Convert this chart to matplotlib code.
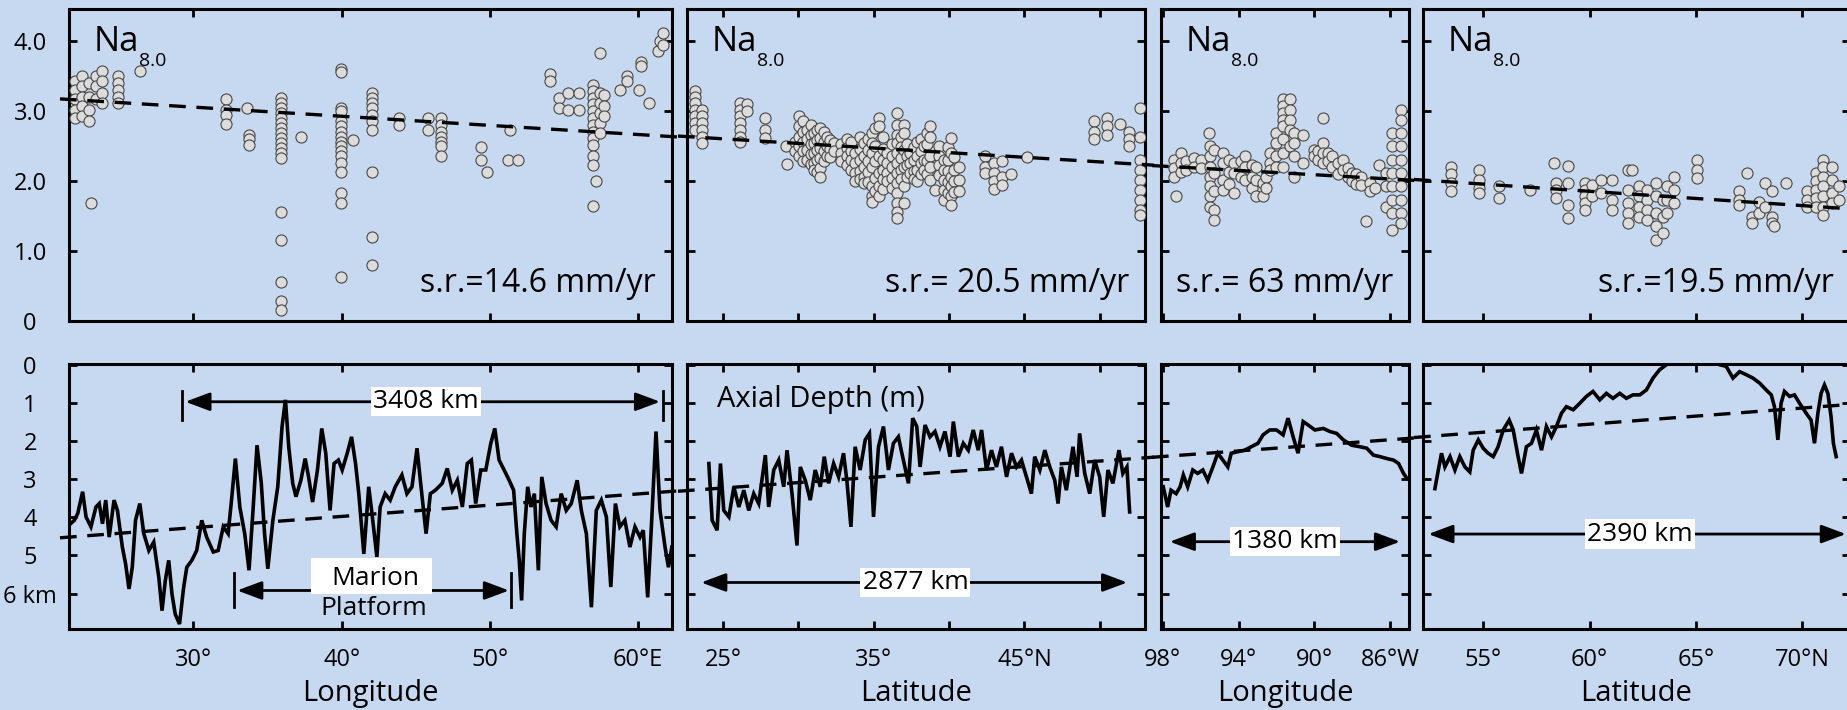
import numpy as np
import matplotlib.pyplot as plt
import matplotlib.transforms as mtransforms
from matplotlib.patches import Rectangle

plt.rcParams['font.family'] = ['Open Sans', 'DejaVu Sans']

BG = '#c6d9f0'
W, H = 1847, 710

# ---- Na8.0 samples: (position, [values]) columns ----
na_swir = [
    (22.03, [3.42, 3.30, 3.16, 3.01, 2.90]), (22.48, [3.49, 3.35, 3.20, 3.06, 2.92]),
    (22.94, [3.40, 3.20, 3.01, 2.85]), (23.06, [1.68]), (23.39, [3.49, 3.35, 3.16]),
    (23.84, [3.56, 3.42, 3.25, 3.11]), (24.89, [3.49, 3.40, 3.30, 3.20, 3.11]),
    (26.40, [3.56]), (32.21, [3.17, 3.01, 2.94, 2.81]), (33.63, [3.04]),
    (33.78, [2.66, 2.59, 2.51]),
    (35.89, [3.18, 3.11, 3.04, 2.97, 2.90, 2.82, 2.75, 2.68, 2.61, 2.54, 2.47, 2.40, 2.32,
             1.56, 1.16, 0.56, 0.28, 0.16]),
    (37.24, [2.62]),
    (39.95, [3.59, 3.55, 3.04, 2.99, 2.85, 2.78, 2.70, 2.63, 2.56, 2.49, 2.42, 2.35, 2.25,
             2.13, 1.82, 1.68, 0.63]),
    (40.77, [2.58]), (42.06, [3.25, 3.18, 3.11, 3.04, 2.94, 2.85, 2.73, 2.13, 1.20, 0.80]),
    (43.87, [2.90, 2.79]), (45.83, [2.90, 2.73]),
    (46.73, [2.90, 2.80, 2.70, 2.63, 2.56, 2.49, 2.35]), (49.38, [2.48, 2.30]),
    (49.83, [2.13]), (51.23, [2.30]), (51.38, [2.73]), (51.92, [2.30]),
    (54.09, [3.53, 3.42]), (54.69, [3.18, 3.04]), (55.29, [3.25, 3.01]), (56.04, [3.25, 3.01]),
    (56.97, [3.37, 3.28, 3.18, 3.09, 2.99, 2.90, 2.80, 2.70, 2.61, 2.51, 2.35, 2.23, 1.64]),
    (57.20, [1.99]), (57.43, [3.82, 3.25, 3.11, 2.97, 2.82, 2.68]), (57.73, [3.23, 3.06, 2.92]),
    (58.78, [3.29]), (59.23, [3.49, 3.42]), (60.04, [3.29]), (60.19, [3.70, 3.63]),
    (60.73, [3.11]), (61.33, [3.85]), (61.50, [3.99]), (61.72, [4.11, 3.94]),
]
na_mar = [
    (23.16, [3.28, 3.20, 3.11, 3.01, 2.92, 2.82, 2.73]), (23.61, [3.01, 2.92, 2.82, 2.73, 2.63, 2.54]),
    (26.15, [3.11, 3.01, 2.92, 2.82, 2.73, 2.63, 2.56]), (26.59, [3.10, 2.99]),
    (27.81, [2.90, 2.73, 2.61]), (29.14, [2.49]), (29.25, [2.24]), (29.80, [2.55, 2.42]),
    (30.02, [2.92, 2.78, 2.63, 2.49, 2.35]), (30.30, [2.85, 2.70, 2.56, 2.42, 2.28]),
    (30.58, [2.73, 2.59, 2.44, 2.30]), (30.80, [2.80, 2.66, 2.52, 2.38, 2.24]),
    (31.02, [2.68, 2.54, 2.40, 2.25, 2.16]), (31.25, [2.72, 2.58, 2.44, 2.30, 2.12]),
    (31.46, [2.75, 2.61, 2.47, 2.32, 2.18, 2.06]), (31.70, [2.70, 2.56, 2.42, 2.28]),
    (31.90, [2.63, 2.49, 2.35]), (32.10, [2.58, 2.46, 2.34]), (32.35, [2.54, 2.42]),
    (32.80, [2.52, 2.40, 2.28]), (33.23, [2.59, 2.47, 2.35, 2.23]),
    (33.50, [2.55, 2.42, 2.30, 2.15]), (33.78, [2.40, 2.25, 2.11, 1.99]),
    (34.10, [2.62, 2.46, 2.30, 2.14, 2.02]), (34.34, [2.54, 2.35, 2.20, 2.06, 1.97]),
    (34.60, [2.60, 2.44, 2.28, 2.12, 1.98]), (34.89, [2.68, 2.54, 2.40, 2.20, 1.92, 1.78, 1.70]),
    (35.10, [2.75, 2.50, 2.28, 2.04, 1.86]), (35.33, [2.90, 2.78, 2.35, 2.11, 1.92, 1.78]),
    (35.60, [2.62, 2.46, 2.30, 2.16, 2.02, 1.88]), (35.88, [2.40, 2.25, 2.11, 1.99]),
    (36.20, [2.52, 2.36, 2.20, 2.04, 1.90]),
    (36.55, [2.97, 2.80, 2.66, 2.54, 2.40, 2.25, 2.11, 1.97, 1.82, 1.68, 1.56, 1.47]),
    (36.80, [2.62, 2.48, 2.32, 2.16, 2.02]), (36.99, [2.80, 2.68, 2.44, 2.20, 1.92, 1.68]),
    (37.20, [2.52, 2.36, 2.22, 2.06]), (37.43, [2.40, 2.25, 2.11]),
    (37.65, [2.48, 2.30, 2.14, 2.02]), (37.88, [2.56, 2.35, 2.16, 1.99]),
    (38.10, [2.60, 2.42, 2.26, 2.10]), (38.32, [2.49, 2.30, 2.16]),
    (38.55, [2.68, 2.52, 2.28, 2.10]), (38.76, [2.78, 2.63, 2.35, 2.20, 2.01]),
    (39.09, [1.87]), (39.35, [2.50, 2.36, 2.22, 2.08]), (39.65, [2.30, 2.16, 2.01, 1.87, 1.73]),
    (39.90, [2.48, 2.30, 2.14, 1.98, 1.82]), (40.09, [2.61, 2.40, 2.06, 1.92, 1.78, 1.66]),
    (40.35, [2.34, 2.16, 2.00, 1.84]), (40.64, [2.20, 2.01, 1.85]),
    (42.41, [2.35, 2.20, 2.11]), (42.96, [2.25, 2.11, 1.99, 1.88]), (43.52, [2.28, 2.06, 1.94]),
    (44.12, [2.10]), (45.18, [2.34]), (49.60, [2.85, 2.70, 2.59]), (50.49, [2.90, 2.78, 2.66]),
    (51.37, [2.81]), (51.92, [2.70, 2.59, 2.49]),
    (52.65, [3.04, 2.63, 2.30, 2.16, 2.01, 1.87, 1.73, 1.59, 1.51]),
]
na_epr = [
    (97.41, [2.30, 2.18, 2.06]), (97.29, [1.78]), (97.06, [2.40, 2.25, 2.13]),
    (96.80, [2.28, 2.16]), (96.35, [2.32, 2.20]), (96.00, [2.30, 2.18]), (95.58, [2.68]),
    (95.53, [2.49, 2.35, 2.20, 2.06, 1.92, 1.78, 1.63]), (95.29, [2.44, 2.11, 1.85, 1.59, 1.44]),
    (94.82, [2.40, 2.25, 2.01, 1.87]), (94.50, [2.30, 2.12, 1.95]), (94.24, [2.25, 2.11, 1.82]),
    (93.90, [2.28, 2.05]), (93.65, [2.35, 2.20, 2.01]), (93.30, [2.22, 2.05, 1.90]),
    (93.06, [2.20, 2.01, 1.78]), (92.71, [1.97, 1.78]), (92.55, [2.05, 1.90]),
    (92.35, [2.40, 2.25, 2.16]), (92.00, [2.68, 2.54, 2.35, 2.20]),
    (91.65, [3.16, 3.06, 2.97, 2.87, 2.78, 2.59, 2.40, 2.20]), (91.29, [3.16, 3.01, 2.87, 2.73, 2.49]),
    (91.06, [2.68, 2.54, 2.35, 2.06]), (90.59, [2.66, 2.25]), (90.00, [2.44, 2.35]),
    (89.80, [2.42, 2.30]), (89.53, [2.90, 2.54, 2.40, 2.25]), (89.30, [2.40, 2.28]),
    (89.06, [2.35, 2.20]), (88.75, [2.25, 2.10]), (88.47, [2.30, 2.16]), (88.20, [2.18, 2.05]),
    (88.00, [2.11, 1.99]), (87.80, [2.10, 1.96]), (87.53, [2.06, 1.94]), (87.29, [1.42]),
    (87.06, [1.97, 1.85]), (86.80, [1.90]), (86.59, [2.23]), (86.24, [2.11, 1.92, 1.63]),
    (85.88, [2.68, 2.49, 2.30, 2.11, 1.92, 1.73, 1.54, 1.30]),
    (85.41, [3.01, 2.87, 2.68, 2.49, 2.30, 2.11, 1.92, 1.73, 1.54, 1.40]),
]
na_kol = [
    (53.50, [2.20, 2.09, 1.97, 1.85]), (54.79, [2.16, 2.01, 1.90, 1.82]), (55.73, [1.92, 1.75]),
    (57.19, [1.87]), (58.34, [2.25]), (58.44, [1.97, 1.87, 1.75]), (58.97, [2.21, 1.97, 1.66, 1.47]),
    (59.80, [1.97, 1.87, 1.78, 1.68, 1.59]), (60.11, [1.94, 1.78]), (60.53, [2.01, 1.82]),
    (61.05, [2.01, 1.73, 1.59]), (61.79, [2.16, 1.87, 1.68, 1.54, 1.40]), (62.00, [2.16]),
    (62.31, [1.92, 1.78, 1.63, 1.49]), (62.72, [1.87, 1.73, 1.59, 1.44]),
    (63.14, [1.97, 1.78, 1.54, 1.35, 1.16]), (63.46, [1.73, 1.49, 1.25]),
    (63.66, [1.92, 1.73, 1.54]), (63.98, [2.06, 1.87, 1.68]), (65.06, [2.30, 2.16, 2.04]),
    (67.00, [1.85, 1.73, 1.66]), (67.38, [2.11]), (67.63, [1.49, 1.40]), (67.94, [1.70, 1.54]),
    (68.26, [1.97, 1.63]), (68.57, [1.85, 1.49, 1.40]), (68.67, [1.35]), (69.24, [1.97]),
    (70.20, [1.85, 1.73, 1.63]), (70.66, [2.11, 1.99, 1.87, 1.75, 1.63]),
    (70.97, [2.30, 2.20, 2.06, 1.92, 1.78, 1.63, 1.51]), (71.39, [2.20, 2.01, 1.82, 1.68]),
    (71.70, [1.92, 1.73]),
]

# ---- axial depth profiles (km) ----
swir_lon = [21.70, 21.96, 22.19, 22.52, 22.75, 23.08, 23.42, 23.64, 23.86, 24.08, 24.31, 24.64,
            24.87, 25.20, 25.42, 25.65, 25.87, 26.09, 26.38, 26.65, 26.99, 27.32, 27.66, 27.88,
            28.10, 28.33, 28.55, 28.77, 29.06, 29.33, 29.55, 29.89, 30.22, 30.56, 30.89, 31.34,
            31.67, 32.01, 32.34, 32.57, 32.83, 33.13, 33.46, 33.75, 34.02, 34.29, 34.58, 34.80,
            35.02, 35.36, 35.69, 35.98, 36.21, 36.43, 36.70, 36.92, 37.25, 37.54, 37.77, 38.04,
            38.37, 38.66, 38.93, 39.22, 39.49, 39.78, 40.04, 40.38, 40.67, 40.94, 41.16, 41.50,
            41.83, 42.05, 42.38, 42.60, 42.94, 43.28, 43.62, 44.07, 44.41, 44.75, 45.09, 45.36,
            45.70, 45.99, 46.33, 46.79, 47.13, 47.47, 47.81, 48.15, 48.48, 48.76, 49.05, 49.39,
            49.73, 50.07, 50.34, 50.63, 50.97, 51.31, 51.61, 51.83, 51.99, 52.15, 52.33, 52.56,
            52.78, 53.01, 53.28, 53.51, 53.80, 54.14, 54.48, 54.82, 55.16, 55.50, 55.90, 56.18,
            56.52, 56.86, 57.19, 57.53, 57.87, 58.17, 58.48, 58.78, 59.12, 59.46, 59.80, 60.14,
            60.36, 60.66, 60.93, 61.22, 61.49, 61.83, 62.06, 62.29]
swir_depth = [4.17, 4.08, 3.90, 3.33, 3.99, 4.25, 3.73, 3.64, 4.17, 3.55, 4.52, 3.55,
              3.82, 4.78, 5.22, 5.88, 5.31, 4.08, 3.64, 4.43, 4.87, 4.65, 5.57, 6.45,
              5.66, 5.13, 6.01, 6.54, 6.80, 5.86, 5.31, 5.13, 4.87, 4.08, 4.52, 4.91,
              4.87, 4.25, 4.43, 3.55, 2.46, 3.73, 4.43, 5.39, 3.82, 2.11, 3.11, 4.43,
              5.35, 4.08, 3.20, 1.62, 0.92, 2.15, 3.11, 3.46, 3.03, 2.46, 2.94, 3.60,
              2.76, 1.67, 2.32, 3.82, 2.59, 2.50, 2.76, 2.32, 1.89, 2.59, 3.38, 4.96,
              3.20, 3.90, 5.04, 3.73, 3.38, 3.55, 3.20, 2.89, 3.38, 3.20, 2.19, 3.20,
              4.43, 3.38, 3.29, 3.11, 2.72, 3.29, 3.03, 3.73, 2.59, 2.50, 3.64, 2.76,
              2.76, 2.06, 1.67, 2.50, 2.76, 3.03, 3.29, 4.43, 5.13, 6.18, 4.43, 3.20,
              3.73, 3.38, 5.39, 2.94, 3.64, 4.08, 4.25, 3.38, 3.82, 3.64, 3.03, 3.82,
              4.43, 6.36, 3.82, 3.55, 3.99, 5.83, 3.64, 4.25, 4.08, 4.78, 4.25, 4.52,
              4.34, 6.10, 4.08, 1.75, 3.82, 4.78, 5.31, 4.78]

mar_lat = [24.05, 24.27, 24.60, 24.82, 25.04, 25.38, 25.71, 26.04, 26.37, 26.70, 27.03, 27.36,
           27.80, 28.02, 28.36, 28.69, 29.02, 29.24, 29.57, 29.90, 30.12, 30.45, 30.78, 31.11,
           31.45, 31.71, 32.00, 32.33, 32.66, 32.99, 33.21, 33.48, 33.76, 34.09, 34.43, 34.71,
           34.98, 35.31, 35.64, 35.97, 36.30, 36.63, 36.96, 37.30, 37.58, 37.85, 38.07, 38.40,
           38.73, 39.06, 39.39, 39.72, 40.06, 40.28, 40.61, 40.94, 41.27, 41.60, 41.93, 42.15,
           42.48, 42.81, 43.14, 43.47, 43.81, 44.14, 44.47, 44.80, 45.13, 45.46, 45.68, 46.02,
           46.35, 46.68, 47.01, 47.23, 47.45, 47.78, 48.22, 48.49, 48.66, 49.00, 49.33, 49.66,
           49.99, 50.26, 50.54, 50.87, 51.27, 51.53, 51.80, 51.98]
mar_depth = [2.59, 4.08, 4.34, 2.59, 3.82, 3.99, 3.20, 3.73, 3.29, 3.82, 3.38, 3.64,
             2.37, 3.73, 2.76, 2.50, 3.20, 2.24, 3.38, 4.74, 2.68, 3.03, 3.55, 2.76,
             3.20, 2.41, 3.11, 2.59, 2.94, 2.32, 3.03, 4.25, 2.15, 2.76, 1.97, 1.80,
             3.99, 2.15, 1.62, 2.76, 2.06, 1.89, 2.50, 3.11, 1.40, 1.62, 2.68, 1.58,
             1.89, 1.75, 2.15, 1.75, 2.41, 1.49, 2.41, 2.06, 2.24, 1.71, 2.24, 1.71,
             2.76, 2.24, 2.68, 2.15, 2.94, 2.32, 2.68, 2.50, 2.94, 3.38, 2.41, 2.76,
             2.24, 2.68, 3.03, 3.64, 2.68, 3.29, 2.15, 2.94, 1.80, 2.85, 3.38, 2.50,
             2.94, 3.99, 2.76, 3.11, 2.24, 2.85, 2.68, 3.86]

epr_lon = [97.98, 97.75, 97.57, 97.30, 97.09, 96.92, 96.69, 96.42, 96.16, 95.89, 95.63, 95.36,
           95.10, 94.83, 94.57, 94.39, 94.04, 93.68, 93.33, 92.98, 92.71, 92.36, 92.00, 91.65,
           91.39, 91.12, 90.86, 90.59, 90.33, 89.97, 89.53, 89.18, 88.82, 88.47, 88.03, 87.59,
           87.23, 86.88, 86.53, 86.17, 85.82, 85.55, 85.29, 85.11]
epr_depth = [3.20, 3.73, 3.29, 3.38, 3.20, 2.89, 3.20, 2.76, 2.85, 2.76, 3.03, 2.68,
             2.32, 2.50, 2.68, 2.32, 2.28, 2.24, 2.15, 2.06, 1.84, 1.71, 1.71, 1.84,
             1.40, 1.89, 2.32, 1.49, 1.58, 1.71, 1.67, 1.75, 1.80, 1.97, 2.11, 2.15,
             2.19, 2.37, 2.41, 2.46, 2.50, 2.59, 2.85, 2.98]

kol_lat = [52.73, 52.89, 53.04, 53.20, 53.44, 53.67, 53.90, 54.14, 54.37, 54.53, 54.77, 55.00,
           55.23, 55.47, 55.70, 55.94, 56.22, 56.41, 56.64, 56.80, 57.03, 57.27, 57.50, 57.74,
           57.97, 58.21, 58.44, 58.68, 58.91, 59.23, 59.54, 59.85, 60.16, 60.48, 60.79, 61.10,
           61.42, 61.73, 62.04, 62.36, 62.67, 62.98, 63.29, 63.61, 63.84, 64.55, 65.33, 66.11,
           66.42, 66.74, 67.05, 67.36, 67.68, 67.99, 68.30, 68.54, 68.69, 68.85, 69.00, 69.16,
           69.40, 69.63, 69.87, 70.18, 70.41, 70.57, 70.73, 70.88, 71.04, 71.20, 71.35, 71.46,
           71.59]
kol_depth = [3.25, 2.76, 2.32, 2.68, 2.41, 2.76, 2.41, 2.68, 2.81, 2.24, 1.97, 2.19,
             2.32, 2.41, 2.15, 1.71, 1.45, 1.71, 2.41, 2.85, 2.15, 2.06, 1.71, 2.24,
             1.62, 1.89, 1.62, 1.27, 1.10, 1.18, 1.01, 0.83, 0.70, 0.92, 0.75, 0.88,
             0.75, 0.88, 0.79, 0.79, 0.66, 0.35, 0.13, 0.00, -0.10, -0.30, -0.30, 0.00,
             0.04, 0.35, 0.18, 0.26, 0.35, 0.48, 0.66, 0.79, 1.10, 1.97, 1.01, 0.70,
             0.83, 0.79, 1.01, 1.27, 1.45, 2.06, 1.27, 0.75, 0.53, 0.75, 1.36, 2.06,
             2.41]

# regression values at the left/right edge of each panel
na_fit = [(3.16, 2.63), (2.63, 2.23), (2.21, 2.01), (2.01, 1.60)]
depth_fit = [(4.52, 3.32), (3.30, 2.44), (2.41, 1.93), (1.89, 1.04)]

spreading = ['s.r.=14.6 mm/yr', 's.r.= 20.5 mm/yr', 's.r.= 63 mm/yr', 's.r.=19.5 mm/yr']
xlims = [(21.6, 62.3), (22.6, 53.0), (98.1, 85.0), (52.17, 72.24)]
xticks = [[30, 40, 50, 60], [25, 30, 35, 40, 45, 50], [98, 94, 90, 86], [55, 60, 65, 70]]
xticklabels = [['30°', '40°', '50°', '60°E'], ['25°', '', '35°', '', '45°N', ''],
               ['98°', '94°', '90°', '86°W'], ['55°', '60°', '65°', '70°N']]
xlabels = ['Longitude', 'Latitude', 'Longitude', 'Latitude']
na_ticks = [0, 1, 2, 3, 4]
na_ticklabels = ['0', '1.0', '2.0', '3.0', '4.0']
depth_ticks = [0, 1, 2, 3, 4, 5, 6]
depth_ticklabels = ['0', '1', '2', '3', '4', '5', '6 km']

na_data = [na_swir, na_mar, na_epr, na_kol]
profiles = [(swir_lon, swir_depth), (mar_lat, mar_depth), (epr_lon, epr_depth), (kol_lat, kol_depth)]


def flat(cols):
    xs = [x for x, ys in cols for _ in ys]
    ys = [y for _, ys in cols for y in ys]
    return xs, ys


fig = plt.figure(figsize=(W / 100, H / 100), dpi=100, facecolor=BG)

col_px = [(69, 672), (687, 1145), (1161, 1409), (1423, 1850)]
row_px = [(9, 321), (364, 629)]


def add_ax(c, r):
    x0, x1 = col_px[c]
    y0, y1 = row_px[r]
    ax = fig.add_axes([x0 / W, 1 - y1 / H, (x1 - x0) / W, (y1 - y0) / H])
    ax.set_facecolor(BG)
    for s in ax.spines.values():
        s.set_linewidth(2.2)
    ax.tick_params(direction='in', length=6, width=2, top=True, right=True,
                   labelsize=17, pad=13.5)
    ax.tick_params(axis='y', pad=28)
    return ax


def fit_line(ax, edges):
    ext = 9 / ax.bbox.width
    fx = np.array([-ext, 1 + ext])
    fy = edges[0] + (edges[1] - edges[0]) * fx
    tr = mtransforms.blended_transform_factory(ax.transAxes, ax.transData)
    ax.plot(fx, fy, transform=tr, ls=(0, (5, 3.2)), color='k', lw=2.4,
            clip_on=False, zorder=4)


def span(ax, x0, x1, y, label=None, lx=None):
    ax.annotate('', xy=(x1, y), xytext=(x0, y),
                arrowprops=dict(arrowstyle='<|-|>,head_length=0.75,head_width=0.28',
                                color='k', lw=2, shrinkA=0, shrinkB=0, mutation_scale=20),
                zorder=5)
    if label:
        ax.text(lx, y, label, ha='center', va='center', fontsize=19, zorder=6,
                bbox=dict(facecolor='white', edgecolor='none', pad=1.5))


for c in range(4):
    # top row: Na8.0
    ax = add_ax(c, 0)
    xs, ys = flat(na_data[c])
    ax.scatter(xs, ys, s=64, facecolor='#dcdcdc', edgecolor='#474747', linewidths=0.8, zorder=3)
    fit_line(ax, na_fit[c])
    ax.set_xlim(*xlims[c])
    ax.set_ylim(0, 4.45)
    ax.set_xticks(xticks[c])
    ax.set_yticks(na_ticks)
    ax.tick_params(labelbottom=False)
    if c == 0:
        ax.set_yticklabels(na_ticklabels)
        for t in ax.get_yticklabels():
            t.set_ha('center')
    else:
        ax.tick_params(labelleft=False)
    na = ax.annotate('Na', xy=(0, 1), xycoords='axes fraction', xytext=(25, -42),
                     textcoords='offset pixels', fontsize=25, va='baseline', ha='left')
    ax.annotate('8.0', xy=(1, 0), xycoords=na, xytext=(0, 7), textcoords='offset pixels',
                fontsize=14, va='top', ha='left')
    ax.annotate(spreading[c], xy=(1, 0), xycoords='axes fraction', xytext=(-16, 29),
                textcoords='offset pixels', fontsize=23, va='baseline', ha='right')

    # bottom row: axial depth
    ax = add_ax(c, 1)
    px, pd = profiles[c]
    ax.plot(px, pd, color='k', lw=2.6, zorder=3, solid_joinstyle='miter')
    fit_line(ax, depth_fit[c])
    ax.set_xlim(*xlims[c])
    ax.set_ylim(6.93, -0.02)
    ax.set_xticks(xticks[c])
    ax.set_xticklabels(xticklabels[c])
    ax.set_yticks(depth_ticks)
    if c == 0:
        ax.set_yticklabels(depth_ticklabels)
        for t in ax.get_yticklabels():
            t.set_ha('center')
    else:
        ax.tick_params(labelleft=False)
    ax.set_xlabel(xlabels[c], fontsize=21)
    ax.xaxis.label.set_va('baseline')
    ax.xaxis.set_label_coords(0.5, -72 / 265)

    if c == 0:
        for xb in (29.26, 61.69):
            ax.plot([xb, xb], [0.68, 1.46], color='k', lw=2)
        span(ax, 29.45, 61.5, 0.97, '3408 km', 45.7)
        for xb in (32.77, 51.46):
            ax.plot([xb, xb], [5.46, 6.35], color='k', lw=2)
        span(ax, 32.95, 51.3, 5.92)
        ax.add_patch(Rectangle((37.95, 5.08), 8.15, 0.93, facecolor='white',
                               edgecolor='none', zorder=6))
        ax.text(42.28, 5.77, 'Marion', ha='center', va='baseline', fontsize=19, zorder=7)
        ax.text(42.2, 6.55, 'Platform', ha='center', va='baseline', fontsize=19, zorder=7)
    elif c == 1:
        ax.annotate('Axial Depth (m)', xy=(0, 1), xycoords='axes fraction', xytext=(30, -43),
                    textcoords='offset pixels', fontsize=21, va='baseline', ha='left')
        span(ax, 23.54, 51.82, 5.71, '2877 km', 37.76)
    elif c == 2:
        span(ax, 97.64, 85.47, 4.64, '1380 km', 91.54)
    else:
        span(ax, 52.42, 72.05, 4.44, '2390 km', 62.35)

fig.savefig('out.png', dpi=100, facecolor=BG)
